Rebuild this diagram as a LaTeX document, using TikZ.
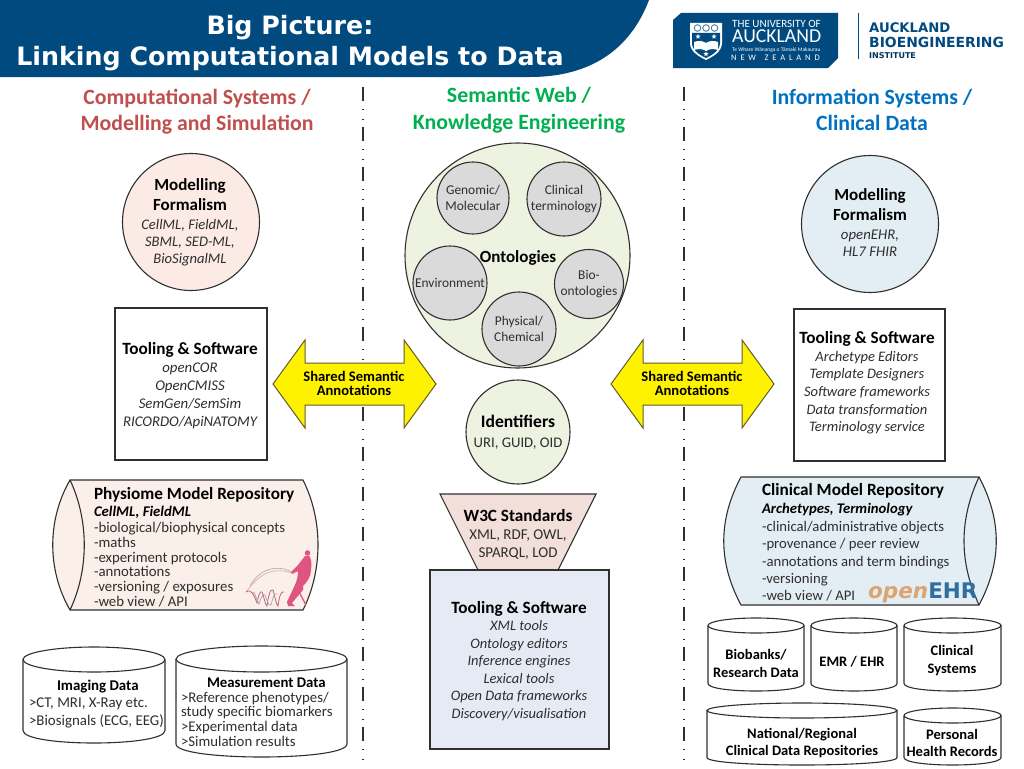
\documentclass[tikz,border=0pt]{standalone}
\usepackage{fontspec}
\setmainfont{Carlito}
\newfontfamily\vfont{DejaVu Sans}
\usetikzlibrary{calc,shapes.geometric}
\definecolor{band}{HTML}{004A7F}
\definecolor{ink}{HTML}{2E2E2E}
\definecolor{lineink}{HTML}{303030}
\definecolor{redhead}{HTML}{C0504D}
\definecolor{greenhead}{HTML}{00B050}
\definecolor{bluehead}{HTML}{0070C0}
\definecolor{peach}{HTML}{FBEBE4}
\definecolor{peachb}{HTML}{FBEFEA}
\definecolor{palegreen}{HTML}{EDF2E1}
\definecolor{paleblue}{HTML}{E3EEF4}
\definecolor{smallgrey}{HTML}{DADADA}
\definecolor{rose}{HTML}{F2DFDA}
\definecolor{lilac}{HTML}{E6EAF4}
\definecolor{pinkfig}{HTML}{E0557F}
\definecolor{openorange}{HTML}{DBA470}
\definecolor{ehrblue}{HTML}{2F6F9F}
\newcommand\fz[2]{\fontsize{#1}{#2}\selectfont}
\newcommand\hd[1]{{\color{black}\upshape\bfseries\fz{17.2}{18}#1}}
\newcommand\hdm[1]{{\color{black}\upshape\bfseries\fz{17}{20}#1}}
\newcommand\bk[1]{{\color{black}\bfseries #1}}
\tikzset{
  outline/.style={draw=lineink,line width=1.1pt},
  txtc/.style={inner sep=0pt,outer sep=0pt,text=ink,align=center},
  txtl/.style={inner sep=0pt,outer sep=0pt,text=ink,align=left,anchor=west},
  headtext/.style={inner sep=0pt,align=center,font=\bfseries\fz{21.8}{26.5}},
  roundshape/.style={circle,outline,inner sep=0pt},
  smallround/.style={roundshape,fill=smallgrey,text=ink,align=center,font=\fz{13.4}{16}},
  boxshape/.style={rectangle,outline,inner sep=0pt},
  divider/.style={draw=lineink,line width=1.5pt,dash pattern=on 14pt off 7.5pt on 1.5pt off 8.5pt on 1.5pt off 7pt},
  bigarrow/.style={draw=olive!60!black,line width=1pt,fill=yellow,line join=miter},
  cylshape/.style={outline,fill=white},
  logostar/.style={star,star points=5,star point ratio=2.4,fill=white,inner sep=0pt,minimum size=5.5pt},
}
% x1 x2 ytop ybottom ry
\newcommand\cyl[5]{%
  \pgfmathsetmacro\cxx{(#1+#2)/2}%
  \pgfmathsetmacro\rxx{(#2-#1)/2}%
  \pgfmathsetmacro\ytp{#3+#5}%
  \pgfmathsetmacro\yen{#4-#5}%
  \pgfmathsetmacro\ycc{#4+#5/3}%
  \path[cylshape] (#1,\ytp) -- (#1,\yen) .. controls (#1,\ycc) and (#2,\ycc) .. (#2,\yen) -- (#2,\ytp);
  \path[cylshape] (\cxx,\ytp) ellipse [x radius=\rxx, y radius=#5];
}
% x of left tip
\newcommand\sharedarrow[1]{%
  \path[bigarrow] (#1,384) -- (#1+32,340) -- (#1+32,363) -- (#1+131,363) -- (#1+131,340) -- (#1+163,384) -- (#1+131,428) -- (#1+131,405) -- (#1+32,405) -- (#1+32,428) -- cycle;
}
\begin{document}
\begin{tikzpicture}[x=1pt,y=-1pt]
\useasboundingbox (0,0) rectangle (1024,768);
\fill[white] (0,0) rectangle (1024,768);
% title band
\fill[band] (0,0) -- (649,0) .. controls (630,50) and (590,77) .. (530,77) -- (0,77) -- cycle;
\node[inner sep=0pt,text=white,align=center,font=\vfont\bfseries\fz{25.3}{31}] (title) at (290,43) {Big Picture:\\Linking Computational Models to Data};
% university logo
\fill[band] (681,13) -- (838,13) -- (838,58) -- (828,68) -- (673,68) -- (673,20) -- cycle;
\fill[white] (690,23) -- (722,23) -- (722,43) .. controls (722,52) and (712,57) .. (706,60) .. controls (700,57) and (690,52) .. (690,43) -- cycle;
\fill[band] (692,33) -- (720,33) -- (720,43) .. controls (720,51) and (711,55.5) .. (706,58) .. controls (701,55.5) and (692,51) .. (692,43) -- cycle;
\foreach \xx in {697.5,706,714.5} {\draw[band!70!white,line width=.9pt] (\xx,28) circle [radius=3.3];}
\fill[white] (694,42) .. controls (699,40) and (703,41) .. (706,43) .. controls (709,41) and (713,40) .. (718,42) -- (718,50) .. controls (713,48.5) and (709,49) .. (706,51) .. controls (703,49) and (699,48.5) .. (694,50) -- cycle;
\node[logostar] (stara) at (698,36.5) {};
\node[logostar] (starb) at (714,36.5) {};
\node[logostar] (starc) at (706,54) {};
\node[inner sep=0pt,text=white,anchor=west,font=\fz{11.1}{12}] (logoa) at (732,23.5) {THE UNIVERSITY OF};
\node[inner sep=0pt,text=white,anchor=west,font=\fz{19.7}{20}] (logob) at (732,36) {AUCKLAND};
\node[inner sep=0pt,text=white,anchor=west,font=\fz{5.5}{6}] (logoc) at (732,50) {Te Whare Wānanga o Tāmaki Makaurau};
\node[inner sep=0pt,text=white,anchor=west,font=\fz{8.5}{9}] (logod) at (731,58) {N\hspace{.45em}E\hspace{.45em}W\hspace{1em}Z\hspace{.45em}E\hspace{.45em}A\hspace{.45em}L\hspace{.45em}A\hspace{.45em}N\hspace{.45em}D};
\draw[band,line width=1pt] (858,13) -- (858,59);
\node[inner sep=0pt,text=band,anchor=west,font=\vfont\bfseries\fz{13.2}{14}] (abia) at (869,28) {AUCKLAND};
\node[inner sep=0pt,text=band,anchor=west,font=\vfont\bfseries\fz{13.9}{14}] (abib) at (869,42) {BIOENGINEERING};
\node[inner sep=0pt,text=band!70!black,anchor=west,font=\vfont\bfseries\fz{8}{9}] (abic) at (869,56) {INSTITUTE};
% dividers
\coordinate (d1a) at (363,87); \coordinate (d1b) at (363,765);
\coordinate (d2a) at (684,87); \coordinate (d2b) at (684,765);
\draw[divider] (d1a) -- (d1b);
\draw[divider] (d2a) -- (d2b);
% headings
\node[headtext,text=redhead] (h1) at (197,111.5) {Computational Systems /\\Modelling and Simulation};
\node[headtext,text=greenhead] (h2) at (519,110) {Semantic Web /\\Knowledge Engineering};
\node[headtext,text=bluehead] (h3) at (872,110) {Information Systems /\\Clinical Data};
% left column
\node[roundshape,fill=peach,minimum size=137pt] (mf1) at (191,222) {};
\node[txtc,font=\itshape\fz{14.6}{17}] (mf1t) at (190,222.5) {\hdm{Modelling}\\[3pt]\hdm{Formalism}\\[2pt]CellML, FieldML,\\SBML, SED-ML,\\BioSignalML};
\node[boxshape,fill=white,minimum width=152pt,minimum height=152pt] (tool1) at (191,384) {};
\node[txtc,font=\itshape\fz{14.8}{18}] (tool1t) at (190,386) {\hd{Tooling \& Software}\\openCOR\\OpenCMISS\\SemGen/SemSim\\RICORDO/ApiNATOMY};
\path[outline,fill=peachb] (70,480) -- (303,480) .. controls (323,520) and (323,570) .. (303,610) -- (70,610) .. controls (47,570) and (47,520) .. (70,480) -- cycle;
\draw[outline] (70,480) .. controls (89,520) and (89,570) .. (70,610);
\node[txtl,font=\fz{14.8}{14.7}] (repo1) at (94,547) {\hd{Physiome Model Repository}\\[3pt]{\color{black}\bfseries\itshape CellML, FieldML}\\[1pt]-biological/biophysical concepts\\-maths\\-experiment protocols\\-annotations\\-versioning / exposures\\-web view / API};
% physiome figure
\fill[pinkfig] (307.5,553) circle [radius=2.8];
\fill[pinkfig] (305,556) -- (309.5,556) .. controls (311.5,560) and (312,565) .. (311,570) .. controls (311,577) and (307,582) .. (303,586) -- (303,590) -- (292,603) -- (295,606) -- (288,606) -- (287,602) -- (294,587) .. controls (297,581) and (298,576) .. (298,571) -- (292,574) -- (291,572) -- (298,565) -- cycle;
\draw[pinkfig,line width=1.3pt] (298,590) -- (306,605);
\draw[pink!80!gray,line width=.8pt] (292,573) .. controls (270,566) and (258,576) .. (246,592);
\draw[gray!70,line width=.6pt] (292,572) .. controls (272,562) and (256,574) .. (250,586);
\draw[pinkfig!70!gray,line width=.8pt] (246,592) .. controls (252,588) and (254,596) .. (257,603) .. controls (258,597) and (260,590) .. (262,592) .. controls (264,596) and (265,605) .. (267,606) .. controls (268,598) and (270,588) .. (273,590) .. controls (275,596) and (276,605) .. (278,606) .. controls (279,598) and (281,590) .. (284,592);
\draw[gray!70,line width=.7pt] (252,592) .. controls (255,590) and (256,600) .. (259,604) .. controls (261,598) and (263,592) .. (265,595) .. controls (267,600) and (268,606) .. (271,605) .. controls (273,598) and (274,592) .. (277,594);
% right column
\node[roundshape,fill=paleblue,minimum size=137pt] (mf2) at (870,224) {};
\node[txtc,font=\itshape\fz{14.8}{17}] (mf2t) at (870,223) {\hdm{Modelling}\\[3pt]\hdm{Formalism}\\[2pt]openEHR,\\HL7 FHIR};
\node[boxshape,fill=white,minimum width=151pt,minimum height=152pt] (tool2) at (869.5,385) {};
\node[txtc,font=\itshape\fz{14.5}{17.6}] (tool2t) at (867,383) {\hd{Tooling \& Software}\\Archetype Editors\\Template Designers\\Software frameworks\\Data transformation\\Terminology service};
\path[outline,fill=paleblue] (741,477) -- (979,477) .. controls (1002,520) and (1002,562) .. (979,605) -- (741,605) .. controls (718,562) and (718,520) .. (741,477) -- cycle;
\draw[outline] (979,477) .. controls (959,520) and (959,562) .. (979,605);
\node[txtl,font=\fz{14.7}{17.4}] (repo2) at (762,542.5) {\hd{Clinical Model Repository}\\[1pt]{\color{black}\bfseries\itshape Archetypes, Terminology}\\-clinical/administrative objects\\-provenance / peer review\\-annotations and term bindings\\-versioning\\-web view / API};
\node[inner sep=0pt,anchor=base west,font=\vfont\fz{21.5}{24}] (oehr) at (868,598) {\textcolor{openorange}{\bfseries\itshape open}\textcolor{ehrblue}{\bfseries EHR}};
% centre column
\node[roundshape,fill=palegreen,minimum size=225pt] (onto) at (517.5,255.5) {};
\node[smallround,minimum size=72pt] (gen) at (473,198) {Genomic/\\Molecular};
\node[smallround,minimum size=74pt] (clin) at (564,199) {Clinical\\terminology};
\node[smallround,minimum size=74pt] (env) at (450,283) {Environment};
\node[smallround,minimum size=69pt] (bio) at (589,284) {Bio-\\ontologies};
\node[smallround,minimum size=74pt] (phys) at (519,329) {Physical/\\Chemical};
\node[txtc,text=black,font=\bfseries\fz{17}{18}] (ontot) at (518,257.5) {Ontologies};
\node[roundshape,fill=palegreen,minimum size=104pt] (ids) at (518,432) {};
\node[txtc,font=\fz{14.7}{20}] (idst) at (518,432.5) {{\color{black}\bfseries\fz{17.6}{21}Identifiers}\\URI, GUID, OID};
\coordinate (w1) at (440,494); \coordinate (w2) at (596,494); \coordinate (w3) at (558,570); \coordinate (w4) at (478,570);
\path[outline,fill=rose] (w1) -- (w2) -- (w3) -- (w4) -- cycle;
\node[txtc,font=\fz{15}{18}] (w3t) at (518,534) {\hd{W3C Standards}\\XML, RDF, OWL,\\SPARQL, LOD};
\node[boxshape,fill=lilac,minimum width=179pt,minimum height=179pt] (tool3) at (519.5,659.5) {};
\node[txtc,font=\itshape\fz{14.5}{17.5}] (tool3t) at (519,661) {\hd{Tooling \& Software}\\XML tools\\Ontology editors\\Inference engines\\Lexical tools\\Open Data frameworks\\Discovery/visualisation};
% arrows
\sharedarrow{273}
\sharedarrow{611}
\node[txtc,text=black,font=\bfseries\fz{14.6}{14}] (ar1) at (354,383.5) {Shared Semantic\\Annotations};
\node[txtc,text=black,font=\bfseries\fz{14.6}{14}] (ar2) at (692,383.5) {Shared Semantic\\Annotations};
% left cylinders
\cyl{23}{165}{647}{743}{12.5}
\cyl{176}{347}{646}{757}{13}
\node[txtl,font=\fz{14.9}{17.6}] (imgt) at (29,704) {\hspace*{28pt}\bk{Imaging Data}\\>CT, MRI, X-Ray etc.\\>Biosignals (ECG, EEG)};
\node[txtl,font=\fz{14.8}{14.7}] (meast) at (181,712) {\hspace*{26pt}\bk{Measurement Data}\\>Reference phenotypes/\\study specific biomarkers\\>Experimental data\\>Simulation results};
% right cylinders
\cyl{708}{804}{618}{691}{7.5}
\cyl{811}{897}{618}{691}{7.5}
\cyl{904}{1001}{618}{691}{7.5}
\cyl{707}{897}{703}{765}{7.5}
\cyl{904}{1001}{708}{765}{7.5}
\node[txtc,text=black,font=\bfseries\fz{14.5}{18}] (c1) at (756,663.5) {Biobanks/\\Research Data};
\node[txtc,text=black,font=\bfseries\fz{14.5}{18}] (c2) at (852,662) {EMR / EHR};
\node[txtc,text=black,font=\bfseries\fz{14.5}{18}] (c3) at (952,660.5) {Clinical\\Systems};
\node[txtc,text=black,font=\bfseries\fz{14.5}{17.5}] (c4) at (802,743) {National/Regional\\Clinical Data Repositories};
\node[txtc,text=black,font=\bfseries\fz{14.5}{17.5}] (c5) at (952,743) {Personal\\Health Records};
\end{tikzpicture}
\end{document}
